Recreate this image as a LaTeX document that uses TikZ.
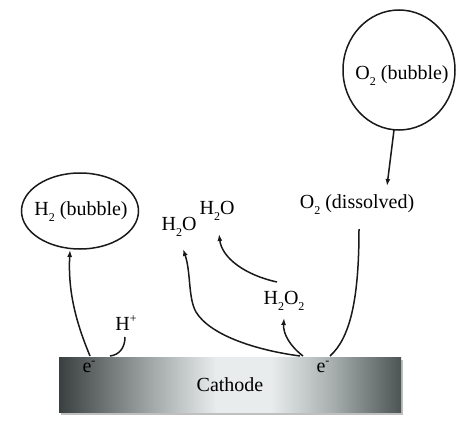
\documentclass[tikz,border=0pt]{standalone}
\usepackage{fontspec}
\setmainfont{Liberation Serif}
\usetikzlibrary{shapes.geometric,arrows.meta}
\definecolor{k0}{HTML}{3A4040}
\definecolor{k1}{HTML}{9EA4A4}
\definecolor{k2}{HTML}{E8ECEC}
\definecolor{k3}{HTML}{A8AEAE}
\definecolor{k4}{HTML}{4C5454}
\pgfdeclarehorizontalshading{cath}{100bp}{color(0bp)=(k0); color(25bp)=(k0); color(38bp)=(k1); color(48bp)=(k2); color(56bp)=(k2); color(65bp)=(k3); color(75bp)=(k4); color(100bp)=(k4)}
\newcommand\ssub[1]{\raisebox{-0.3em}{\fontsize{12}{12}\selectfont #1}}
\newcommand\ssup[1]{\raisebox{0.42em}{\fontsize{12}{12}\selectfont #1}}
\begin{document}
\begin{tikzpicture}[x=1pt,y=-1pt,
  every node/.style={font=\fontsize{20}{24}\selectfont, inner sep=0pt},
  conn/.style={line width=1.5pt, draw=black!90},
  arr/.style={conn, -{Latex[length=7pt,width=5pt]}},
  bubble/.style={draw=black!90, line width=1.5pt, ellipse}]
\useasboundingbox (0,0) rectangle (474,423);
% cathode
\fill[black!25] (61,360) rectangle (403,415);
\shade[shading=cath] (59,357) rectangle (401,412);
\node (cath) at (230,385) {Cathode};
\node (e1) at (89,367) {e\ssup{-}};
\node (e2) at (323,367) {e\ssup{-}};
% bubbles
\node[bubble, minimum width=117pt, minimum height=76pt] (h2) at (80,211) {};
\node (h2t) at (81,212) {H\ssub{2} (bubble)};
\node[bubble, minimum width=112pt, minimum height=120pt] (o2b) at (399,70) {};
\node (o2bt) at (402,76) {O\ssub{2} (bubble)};
% species
\node (o2d) at (357,205) {O\ssub{2} (dissolved)};
\node (w1) at (179,227) {H\ssub{2}O};
\node (w2) at (217,211) {H\ssub{2}O};
\node (hp) at (126,323) {H\ssup{+}};
\node (pero) at (284,301) {H\ssub{2}O\ssub{2}};
% anchor points
\coordinate (s1) at (90,356);
\coordinate (s2) at (110,356);
\coordinate (s3) at (300,356);
\coordinate (s4) at (303,356);
\coordinate (s5) at (330,356);
\coordinate (t1) at (70,250);
\coordinate (t2) at (183,249);
\coordinate (t3) at (219,234);
\coordinate (t4) at (284,318);
\coordinate (hpb) at (125,337);
\coordinate (pt) at (277,282);
\coordinate (od) at (359,229);
\coordinate (ob) at (394,130);
\coordinate (ot) at (387,186);
% connectors
\draw[arr] (s1) .. controls (75,320) and (68,290) .. (t1);
\draw[conn] (hpb) .. controls (125,348) and (119,355) .. (s2);
\draw[arr] (s3) .. controls (255,350) and (210,335) .. (196,312) .. controls (188,298) and (191,272) .. (t2);
\draw[arr] (pt) .. controls (245,275) and (222,258) .. (t3);
\draw[arr] (s4) .. controls (290,346) and (283,334) .. (t4);
\draw[conn] (od) .. controls (359,300) and (350,338) .. (s5);
\draw[arr] (ob) -- (ot);
\end{tikzpicture}
\end{document}
